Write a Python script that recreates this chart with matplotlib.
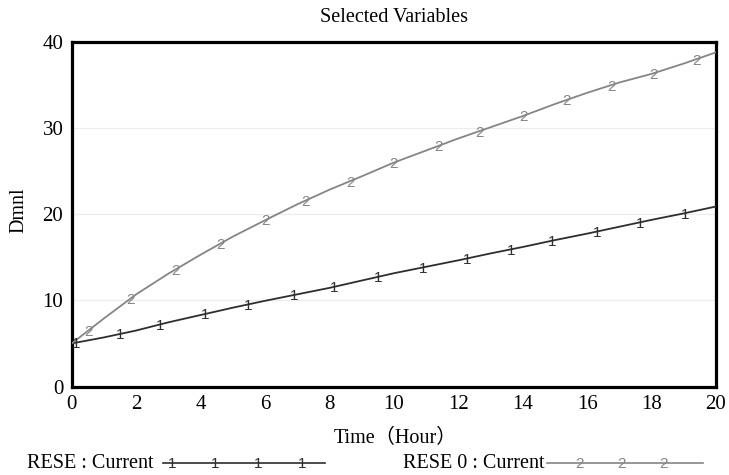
import numpy as np
import matplotlib
matplotlib.use("Agg")
import matplotlib.pyplot as plt
from matplotlib.lines import Line2D
from matplotlib.transforms import offset_copy

# ---- data ----
time = [0, 1, 2, 3, 4, 5, 6, 7, 8, 9, 10, 11, 12, 13, 14, 15, 16, 17, 18, 19, 20]
rese = [5.0, 5.7, 6.5, 7.45, 8.3, 9.15, 9.95, 10.7, 11.45, 12.3, 13.15, 13.9,
        14.65, 15.45, 16.2, 17.0, 17.75, 18.55, 19.35, 20.1, 20.9]
rese0 = [5.0, 7.9, 10.7, 13.1, 15.3, 17.4, 19.3, 21.15, 22.85, 24.4, 26.0, 27.4,
         28.8, 30.1, 31.4, 32.8, 34.1, 35.3, 36.3, 37.5, 38.8]
marks1_t = [0.15, 1.5, 2.74, 4.14, 5.48, 6.91, 8.16, 9.5, 10.9, 12.29, 13.64,
            14.91, 16.3, 17.63, 19.03]
marks2_t = [0.52, 1.84, 3.23, 4.63, 6.02, 7.25, 8.64, 9.99, 11.39, 12.65, 14.02,
            15.37, 16.75, 18.06, 19.38]
xticks = [0, 2, 4, 6, 8, 10, 12, 14, 16, 18, 20]
yticks = [0, 10, 20, 30, 40]
series_names = ["RESE : Current", "RESE 0 : Current"]
marker_chars = ["1", "2"]

# ---- style ----
c1 = "#2e2e2e"
c2 = "#858585"
serif = ["Liberation Serif", "Noto Sans CJK SC"]
plt.rcParams["font.family"] = serif
mk_fs = 11
mk_off = -0.36 * mk_fs  # half of digit height, in points

fig = plt.figure(figsize=(7.29, 4.75), dpi=100)
ax = fig.add_axes([71.7 / 729, 1 - 386.5 / 475, (716 - 71.7) / 729, (386.5 - 42) / 475])

ax.plot(time, rese, color=c1, lw=1.3, zorder=3)
ax.plot(time, rese0, color=c2, lw=1.3, zorder=3)

mk_tr = offset_copy(ax.transData, fig=fig, y=mk_off, units="points")
for ts, ser, col, ch in [(marks1_t, rese, c1, marker_chars[0]),
                         (marks2_t, rese0, c2, marker_chars[1])]:
    ys = np.interp(ts, time, ser)
    for t, y in zip(ts, ys):
        ax.text(t, y, ch, color=col, fontsize=mk_fs, family="Liberation Sans",
                ha="center", va="baseline", transform=mk_tr, zorder=4)

ax.set_xlim(0, 20)
ax.set_ylim(0, 40)
ax.set_xticks(xticks)
ax.set_yticks(yticks)
ax.tick_params(length=0, labelsize=15, pad=6)
for sp in ax.spines.values():
    sp.set_linewidth(2.3)
    sp.set_color("black")
ax.grid(axis="y", color="#ececec", lw=0.8)
ax.set_axisbelow(True)

fig.text(394 / 729, 1 - 18 / 475, "Selected Variables", ha="center", va="center", fontsize=14.5)
fig.text(395 / 729, 1 - 438 / 475, "Time（Hour）", ha="center", va="center", fontsize=14.5,
         family=serif)
fig.text(19 / 729, 1 - 210 / 475, "Dmnl", ha="center", va="center", rotation=90, fontsize=14.5)

# ---- legend ----
leg_y = 1 - 463 / 475
leg_tr = offset_copy(fig.transFigure, fig=fig, y=mk_off, units="points")
fig.text(27 / 729, leg_y, series_names[0], ha="left", va="center", fontsize=14.5)
fig.add_artist(Line2D([163 / 729, 325 / 729], [leg_y, leg_y], color=c1, lw=1.2,
                      transform=fig.transFigure))
for xp in [172, 215, 258, 302]:
    fig.text(xp / 729, leg_y, marker_chars[0], color=c1, fontsize=mk_fs,
             family="Liberation Sans", ha="center", va="baseline", transform=leg_tr)
fig.text(403 / 729, leg_y, series_names[1], ha="left", va="center", fontsize=14.5)
fig.add_artist(Line2D([547 / 729, 703 / 729], [leg_y, leg_y], color=c2, lw=1.2,
                      transform=fig.transFigure))
for xp in [579, 621, 664]:
    fig.text(xp / 729, leg_y, marker_chars[1], color=c2, fontsize=mk_fs,
             family="Liberation Sans", ha="center", va="baseline", transform=leg_tr)

fig.savefig("out.png", dpi=100)
